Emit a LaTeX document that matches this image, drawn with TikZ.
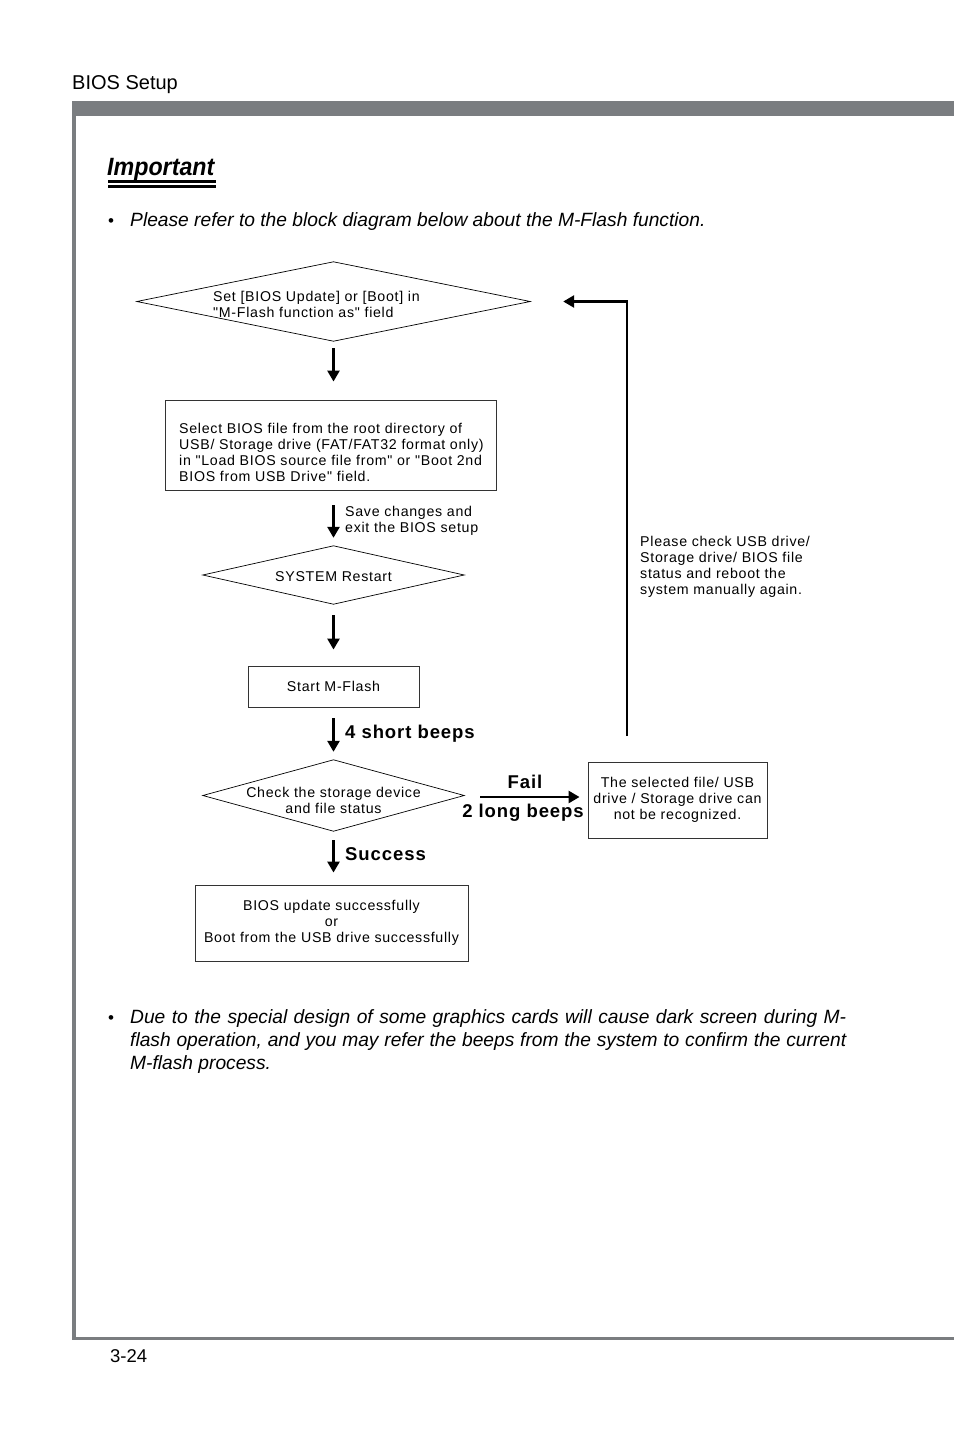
\documentclass[tikz,border=0pt]{standalone}
\usepackage{fontspec}
\setmainfont{Liberation Sans}
\newfontfamily\dgfont{Liberation Sans}[LetterSpace=5]
\usetikzlibrary{arrows.meta,calc}
\definecolor{barGray}{RGB}{122,125,128}
\begin{document}
\begin{tikzpicture}[x=1pt,y=-1pt,
  dtext/.style={font=\dgfont\fontsize{14.2}{16}\selectfont, inner sep=0pt},
  btext/.style={font=\dgfont\bfseries\fontsize{18.5}{20}\selectfont, inner sep=0pt},
  boxnode/.style={draw=black!80, line width=0.9pt, dtext, align=center},
  dshape/.style={inner sep=0pt},
  arr/.style={-{Triangle[length=11pt,width=12pt]}, line width=2.6pt},
  body/.style={font=\itshape\fontsize{19.2}{23}\selectfont, inner sep=0pt},
  dotnode/.style={inner sep=0pt, font=\fontsize{17}{18}\selectfont}
]
\useasboundingbox (0,0) rectangle (954,1432);
% page frame
\node[anchor=base west, inner sep=0pt, font=\fontsize{20}{22}\selectfont] (hdr) at (72,89) {BIOS Setup};
\fill[barGray] (72,101) rectangle (954,116);
\fill[barGray] (72,101) rectangle (75.5,1340);
\fill[barGray] (72,1337) rectangle (954,1340);
\node[anchor=base west, inner sep=0pt, font=\fontsize{18.5}{20}\selectfont] (pg) at (110,1362) {3-24};
% Important logo
\node[anchor=base west, inner sep=0pt, font=\bfseries\itshape\fontsize{25}{27}\selectfont, xscale=0.93] (imp) at (107,175) {Important};
\fill (108,179.5) rectangle (216,183);
\fill (108,185) rectangle (216,187.5);
% bullets
\node[anchor=base west, dotnode] (b1dot) at (108,226) {•};
\node[anchor=base west, body] (bul1) at (130,226) {Please refer to the block diagram below about the M-Flash function.};
\node[anchor=base west, dotnode] (b2dot) at (108,1023) {•};
\node[anchor=north west, body, text width=716pt, align=justify] (bul2) at (130,1009) {Due to the special design of some graphics cards will cause dark screen during M-\linebreak flash operation, and you may refer the beeps from the system to confirm the current\linebreak M-flash process.};
% diamond 1
\node[dshape, minimum width=393pt, minimum height=79pt] (d1) at (333.5,301.5) {};
\draw[line width=0.7pt] (d1.west) -- (d1.north) -- (d1.east) -- (d1.south) -- cycle;
\node[dtext, anchor=west, align=left] (d1t) at (213,304) {Set [BIOS Update] or [Boot] in\\"M-Flash function as" field};
% box 1
\node[draw=black!80, line width=0.9pt, minimum width=331pt, minimum height=90pt, inner sep=0pt] (b1) at (330.5,445) {};
\node[dtext, align=left, anchor=west] (b1t) at (179,452) {Select BIOS file from the root directory of\\USB/ Storage drive (FAT/FAT32 format only)\\in "Load BIOS source file from" or "Boot 2nd\\BIOS from USB Drive" field.};
% diamond 2
\node[dshape, minimum width=261pt, minimum height=58pt] (d2) at (333.5,575) {};
\draw[line width=0.7pt] (d2.west) -- (d2.north) -- (d2.east) -- (d2.south) -- cycle;
\node[dtext] (d2t) at (333.5,576.5) {SYSTEM Restart};
% box 3
\node[boxnode, minimum width=171pt, minimum height=41pt] (b3) at (333.5,686.5) {Start M-Flash};
% diamond 4
\node[dshape, minimum width=261pt, minimum height=71pt] (d4) at (333.5,795.5) {};
\draw[line width=0.7pt] (d4.west) -- (d4.north) -- (d4.east) -- (d4.south) -- cycle;
\node[dtext, align=center] (d4t) at (333.5,800) {Check the storage device\\and file status};
% fail box
\node[boxnode, minimum width=179pt, minimum height=76pt] (fb) at (677.5,800) {The selected file/ USB\\drive / Storage drive can\\not be recognized.};
% final box
\node[boxnode, minimum width=273pt, minimum height=76pt] (fin) at (331.5,923) {BIOS update successfully\\or\\Boot from the USB drive successfully};
% arrows
\draw[arr, shorten <=7pt, shorten >=18pt] (d1.south) -- (d1.south |- b1.north);
\draw[arr, shorten <=15pt, shorten >=8pt] (d2.north |- b1.south) -- (d2.north);
\draw[arr, shorten <=11pt, shorten >=16pt] (d2.south) -- (b3.north);
\draw[arr, shorten <=11pt, shorten >=8pt] (b3.south) -- (d4.north);
\draw[arr, shorten <=9pt, shorten >=12pt] (d4.south) -- (d4.south |- fin.north);
\coordinate (fy) at (480,797);
\draw[arr, shorten <=16pt, shorten >=8pt] (d4.east |- fy) -- (fb.west |- fy);
\coordinate (fbk) at (627,736);
\draw[arr, shorten >=33pt] (fbk) |- (d1.east);
% labels
\node[dtext, anchor=west, align=left] (l2) at (345,521) {Save changes and\\exit the BIOS setup};
\node[btext, anchor=west] (l4) at (345,733.5) {4 short beeps};
\node[btext, anchor=west] (ls) at (345,854.5) {Success};
\node[btext] (lf) at (525,781.5) {Fail};
\node[btext] (ll) at (523,812.5) {2 long beeps};
\node[dtext, anchor=north west, align=left] (lp) at (640,536) {Please check USB drive/\\Storage drive/ BIOS file\\status and reboot the\\system manually again.};
\end{tikzpicture}
\end{document}
